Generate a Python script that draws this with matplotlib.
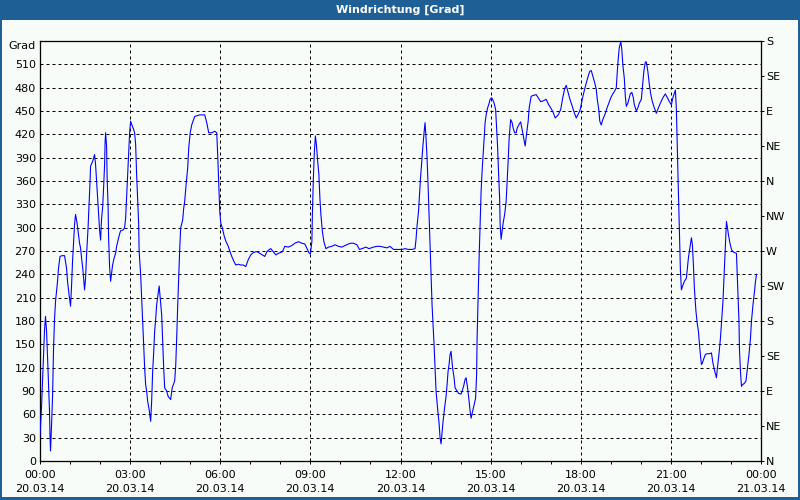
import matplotlib
matplotlib.use("Agg")
import matplotlib.pyplot as plt
from matplotlib.patches import Rectangle
from matplotlib.ticker import FixedLocator, MultipleLocator

# --- data (minutes after 20.03.14 00:00, wind direction in degrees) ---
minutes = [
    0, 3, 5, 7, 9, 11, 13, 15, 17, 19, 20, 21, 23, 25, 27, 29, 31, 35, 37, 40,
    44, 49, 53, 55, 58, 61, 63, 65, 67, 69, 71, 74, 77, 79, 81, 83, 86, 89, 91, 93,
    96, 98, 100, 101, 105, 109, 111, 113, 115, 117, 119, 121, 123, 125, 127, 129, 130, 131, 133, 134,
    136, 137, 139, 141, 143, 145, 148, 151, 153, 156, 159, 161, 166, 169, 171, 173, 175, 177, 179, 181,
    183, 186, 189, 191, 193, 195, 197, 198, 201, 203, 205, 207, 209, 211, 213, 215, 218, 221, 223, 225,
    227, 229, 231, 233, 236, 238, 240, 243,
    245, 247, 249, 253, 256, 261, 264, 269, 271, 273, 275, 277, 279, 281, 285, 287, 289, 292, 295, 297,
    300, 303, 309, 319, 329, 333, 337, 343, 349, 353, 355, 357, 359, 361, 364, 368, 371, 376, 379, 383,
    387, 391, 396, 401, 406, 411, 416, 421, 426, 431, 434, 439, 444, 449, 453, 458, 461, 466, 471, 476,
    484,
    489, 496, 503, 509, 516, 523, 529, 534, 537, 540, 543, 544, 546, 548, 550, 552, 554, 557, 559, 561,
    564, 567, 571, 576, 583, 589, 596, 603, 609, 616, 621, 626, 633, 638, 643, 651, 657, 666, 673, 679,
    686, 693, 699, 706, 713, 723,
    729, 736, 743, 749, 751, 753, 756, 758, 760, 763, 765, 767, 769, 771, 773, 775, 777, 779, 781, 783,
    785, 787, 789, 791, 794, 797, 799, 801, 803, 805, 808, 811, 813, 815, 817, 819, 821, 824, 827, 829,
    833, 836, 841, 843, 846, 849, 851, 854, 857, 859, 861, 864, 867, 870, 872, 873, 875, 877, 879, 881,
    883, 885, 887, 889, 891, 894, 897, 899, 902, 904, 907, 910, 912, 914, 916, 918, 919, 921, 923, 925,
    928, 931, 933, 935, 937, 940, 943, 945, 948, 951, 953, 957, 960,
    963, 966, 969, 972, 975, 977, 981, 985, 991, 995, 1000, 1005, 1011, 1016, 1021, 1025, 1029, 1035, 1040, 1044,
    1048, 1051, 1055, 1058, 1063, 1067, 1071, 1075, 1079, 1083, 1087, 1091, 1095, 1098, 1101, 1104, 1108, 1111, 1113, 1116,
    1118, 1121, 1124, 1128, 1132, 1136, 1140, 1144, 1148, 1151, 1153, 1155, 1157, 1160, 1162, 1164, 1167, 1169, 1171, 1174,
    1177, 1179, 1182, 1185, 1187, 1191, 1194, 1197, 1201,
    1203, 1206, 1209, 1211, 1214, 1217, 1220, 1223, 1227, 1231, 1235, 1239, 1244, 1249, 1253, 1257, 1261, 1264, 1267, 1269,
    1271, 1273, 1275, 1277, 1279, 1281, 1284, 1287, 1291, 1293, 1295, 1298, 1301, 1303, 1305, 1307, 1310, 1313, 1315, 1318,
    1321, 1323, 1326, 1329, 1333, 1338, 1341, 1344, 1347, 1351, 1353, 1356, 1359, 1361, 1364, 1366, 1368, 1370, 1371, 1373,
    1375, 1378, 1381, 1384, 1387, 1391, 1392, 1394, 1396, 1397, 1399, 1401, 1403, 1407, 1410, 1413, 1416, 1419, 1421, 1424,
    1427, 1429, 1431,
]
degrees = [
    34, 68, 103, 135, 168, 186, 168, 135, 98, 64, 31, 13, 45, 81, 143, 182, 205, 231, 248, 263,
    264, 264, 248, 231, 214, 199, 225, 257, 280, 304, 317, 306, 291, 280, 274, 261, 244, 220, 235, 265,
    300, 330, 360, 379, 385, 394, 381, 360, 338, 317, 297, 284, 312, 325, 351, 381, 409, 422, 405, 366,
    327, 287, 250, 231, 242, 252, 261, 267, 276, 284, 292, 296, 297, 300, 312, 340, 368, 398, 422, 437,
    433, 428, 422, 407, 368, 336, 306, 270, 240, 210, 180, 150, 120, 98, 90, 77, 66, 51, 77, 115,
    139, 167, 182, 201, 216, 225, 210, 188,
    154, 120, 94, 90, 83, 79, 94, 103, 122, 158, 199, 235, 272, 300, 310, 325, 334, 357, 377, 402,
    422, 432, 443, 445, 445, 435, 422, 422, 424, 422, 392, 355, 321, 306, 300, 289, 283, 276, 270, 263,
    257, 252, 253, 252, 252, 250, 259, 265, 268, 269, 269, 267, 265, 263, 269, 272, 273, 269, 265, 267,
    269,
    276, 275, 277, 280, 282, 280, 279, 272, 268, 266, 282, 317, 364, 398, 418, 407, 390, 368, 338, 317,
    295, 282, 273, 275, 276, 278, 276, 275, 277, 279, 280, 280, 278, 272, 273, 275, 273, 275, 276, 276,
    275, 274, 276, 272, 272, 272,
    273, 272, 272, 273, 285, 302, 321, 342, 364, 390, 407, 422, 435, 415, 390, 356, 317, 274, 235, 201,
    175, 150, 120, 90, 68, 49, 30, 22, 36, 51, 68, 83, 98, 115, 124, 137, 141, 120, 107, 94,
    90, 87, 86, 90, 96, 105, 107, 94, 77, 64, 55, 64, 72, 81, 111, 158, 210, 261, 304, 347,
    373, 394, 415, 435, 445, 454, 460, 465, 467, 465, 460, 452, 428, 403, 368, 338, 304, 285, 295, 306,
    317, 334, 360, 386, 415, 439, 435, 428, 422, 422, 428, 433, 436,
    426, 415, 405, 422, 437, 454, 469, 470, 471, 467, 462, 463, 465, 458, 453, 448, 441, 445, 452, 467,
    479, 483, 473, 466, 456, 448, 441, 446, 452, 465, 476, 486, 495, 501, 502, 495, 486, 478, 465, 452,
    437, 432, 439, 445, 453, 460, 467, 472, 476, 480, 501, 518, 532, 539, 529, 510, 492, 469, 456, 460,
    467, 472, 474, 467, 458, 450, 454, 460, 465,
    480, 501, 513, 513, 501, 484, 471, 462, 454, 447, 454, 460, 467, 472, 467, 462, 458, 467, 473, 477,
    452, 398, 347, 297, 246, 220, 226, 231, 235, 248, 261, 274, 287, 278, 252, 222, 193, 175, 167, 143,
    124, 126, 132, 137, 138, 138, 139, 126, 117, 107, 120, 137, 158, 177, 205, 235, 265, 295, 308, 300,
    291, 280, 272, 269, 268, 267, 248, 214, 180, 143, 115, 96, 98, 100, 103, 120, 137, 158, 180, 201,
    218, 231, 240,
]
x_tick_minutes = [0, 180, 360, 540, 720, 900, 1080, 1260, 1440]
x_tick_labels = ["00:00\n20.03.14", "03:00\n20.03.14", "06:00\n20.03.14",
                 "09:00\n20.03.14", "12:00\n20.03.14", "15:00\n20.03.14",
                 "18:00\n20.03.14", "21:00\n20.03.14", "00:00\n21.03.14"]
y_left_ticks = list(range(0, 511, 30))
y_left_labels = [str(v) for v in y_left_ticks]
y_right_ticks = list(range(0, 541, 45))
y_right_labels = ["N", "NE", "E", "SE", "S", "SW", "W", "NW", "N", "NE", "E", "SE", "S"]
title = "Windrichtung [Grad]"
unit_label = "Grad"

plt.rcParams['font.family'] = ['DejaVu Sans']
FS = 8
BLUE = "#1e6096"
BG = "#f8fcf8"
px = 0.72

fig = plt.figure(figsize=(8, 5), dpi=100)
fig.patch.set_facecolor(BLUE)
W, H = 800, 500
fig.add_artist(Rectangle((2 / W, 3 / H), 796 / W, (H - 20 - 3) / H,
                         transform=fig.transFigure, facecolor=BG, edgecolor="none", zorder=0))
fig.text(0.5, 1 - 10 / H, title, color="white", fontsize=FS, fontweight="bold",
         ha="center", va="center")

L, R, T, B = 40, 761, 41, 461
ax = fig.add_axes([L / W, (H - B) / H, (R - L) / W, (B - T) / H])
ax.set_facecolor(BG)
ax.plot(minutes, degrees, color="#0000ff", lw=1.0 * px * 1.1, zorder=3)
ax.set_xlim(0, 1440)
ax.set_ylim(0, 540)

for s in ax.spines.values():
    s.set_linewidth(px * 1.3)
    s.set_color("black")

ax.yaxis.set_major_locator(FixedLocator(y_left_ticks))
ax.set_yticklabels(y_left_labels, fontsize=FS)
ax.tick_params(axis="y", length=0, pad=3)
ax.text(-4 / (R - L), 533, unit_label, fontsize=FS, ha="right", va="center",
        transform=ax.get_yaxis_transform())

ax.xaxis.set_major_locator(FixedLocator(x_tick_minutes))
ax.set_xticklabels(x_tick_labels, fontsize=FS, linespacing=1.5)
ax.xaxis.set_minor_locator(MultipleLocator(60))
ax.tick_params(axis="x", which="both", direction="out", length=2.5, width=px, pad=4)

for v in y_left_ticks[1:] + [540]:
    ax.axhline(v, color="black", lw=px, ls=(0, (3, 3)), zorder=1)
for m in x_tick_minutes[1:-1]:
    ax.axvline(m, color="black", lw=px, ls=(0, (3, 3)), zorder=1)

ax2 = ax.twinx()
ax2.set_ylim(0, 540)
ax2.yaxis.set_major_locator(FixedLocator(y_right_ticks))
ax2.set_yticklabels(y_right_labels, fontsize=FS)
ax2.tick_params(axis="y", direction="out", length=2.5, width=px, pad=1)
for s in ax2.spines.values():
    s.set_visible(False)

fig.savefig("out.png", dpi=100, facecolor=fig.get_facecolor())
